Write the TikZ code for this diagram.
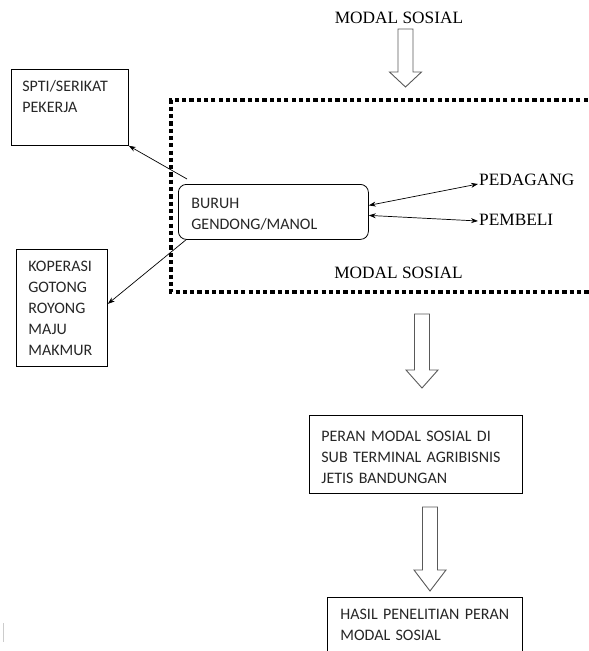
\documentclass[tikz,border=0pt]{standalone}
\usepackage{fontspec}
\setmainfont{Liberation Serif}
\newfontfamily\boxfont{Carlito}
\usepackage{tikz}
\usetikzlibrary{arrows.meta,positioning,calc}

\begin{document}
\begin{tikzpicture}[
    x=1pt,y=-1pt,
    box/.style={draw,line width=0.8pt,inner ysep=0pt,anchor=north west,align=left,
        text=black!85,font=\boxfont\fontsize{16}{21}\selectfont},
    serif/.style={inner sep=0pt,font=\fontsize{17.3}{20}\selectfont},
    link/.style={line width=0.7pt},
    dotborder/.style={line width=3.8pt,dash pattern=on 4.2pt off 3.1pt},
    pics/hollowarrow/.style 2 args={code={
        \draw[line width=0.9pt,draw=black!65,fill=white]
            (-7.5,0) -- (-7.5,#1) -- (-16,#1) -- (0,#2) -- (16,#1) -- (7.5,#1) -- (7.5,0) -- cycle;
    }},
    >={Stealth[length=7pt,width=5pt]},
]
    \useasboundingbox (0,0) rectangle (589,651);

    % modal sosial frame
    \draw[dotborder] (595,100) -- (171,100) -- (171,292) -- (595,292);

    \node[serif,anchor=base] (modaltop) at (399,23) {MODAL SOSIAL};
    \node[serif,anchor=base] (modalbot) at (398.5,278) {MODAL SOSIAL};
    \node[serif,anchor=base west] (pedagang) at (479,185) {PEDAGANG};
    \node[serif,anchor=base west] (pembeli) at (479,225) {PEMBELI};

    \node[box,text width=95pt,inner xsep=11pt,text height=22pt,text depth=54pt] (spti) at (11,69) {SPTI/SERIKAT\\PEKERJA};
    \node[box,rounded corners=8pt,text width=164pt,inner xsep=13pt,text height=24pt,text depth=31pt] (buruh) at (178,184) {BURUH\\GENDONG/MANOL};
    \node[box,text width=67pt,inner xsep=12pt,text height=22pt,text depth=95pt] (koperasi) at (16,249) {KOPERASI\\GOTONG\\ROYONG\\MAJU\\MAKMUR};
    \node[box,text width=189pt,inner xsep=12pt,text height=26.5pt,text depth=52pt] (peran) at (309,414.5) {PERAN MODAL SOSIAL DI\\SUB TERMINAL AGRIBISNIS\\JETIS BANDUNGAN};
    \node[box,text width=169pt,inner xsep=13pt,text height=22pt,text depth=46pt] (hasil) at (327,597) {HASIL PENELITIAN PERAN\\MODAL SOSIAL};

    \pic at (405.5,29) {hollowarrow={43}{58}};
    \pic at (422,314) {hollowarrow={56}{74}};
    \pic at (430,507) {hollowarrow={63}{84}};

    \draw[link,->] ([shift={(9,-5)}]buruh.north west) -- (spti.south east);
    \draw[link,->] ([xshift=8pt]buruh.south west) -- ([yshift=4pt]koperasi.east);
    \draw[link,<->] ([yshift=6.5pt]buruh.east) -- ([shift={(-1,-1)}]pedagang.base west);
    \draw[link,<->] ([yshift=-3.5pt]buruh.east) -- ([shift={(-1,-4)}]pembeli.base west);

    \draw[black!20,line width=1pt] (3,623) -- (3,642);
\end{tikzpicture}
\end{document}
